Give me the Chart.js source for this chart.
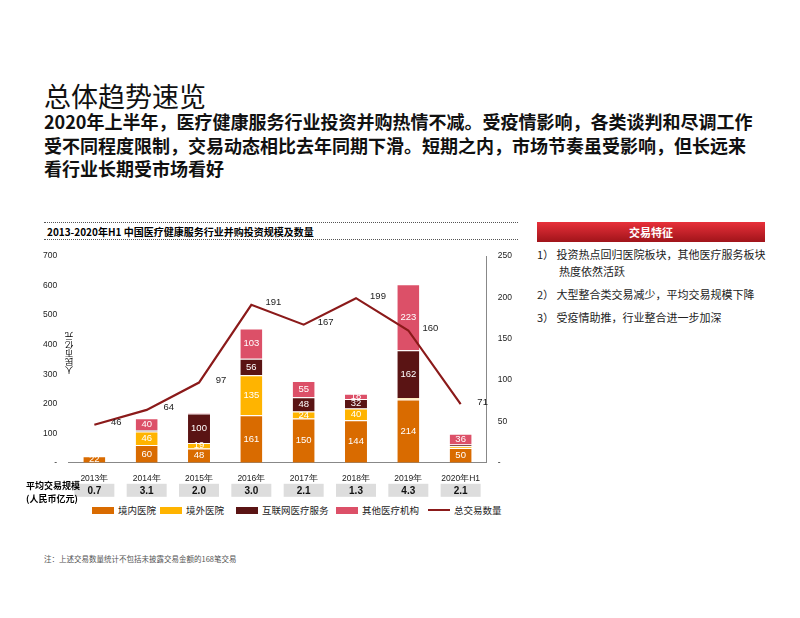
<!DOCTYPE html>
<html><head><meta charset="utf-8">
<script src="https://cdn.jsdelivr.net/npm/chart.js@4/dist/chart.umd.min.js"></script>
<style>
body{margin:0;width:800px;height:618px;background:#fff;font-family:"Noto Sans CJK SC",sans-serif;position:relative;overflow:hidden}
.abs{position:absolute}
h1{position:absolute;left:44px;top:76px;margin:0;font-size:27px;font-weight:400;color:#111}
.sub{left:44px;top:110px;width:760px;font-size:18px;font-weight:700;line-height:23.5px;color:#111;white-space:nowrap}
.ct{left:44px;top:222px;width:474px;height:18px;border-top:1px dotted #555;border-bottom:1px dotted #555;font-size:10px;font-weight:700;line-height:18px;padding-left:3px;box-sizing:border-box}
.hd{left:537px;top:222px;width:228px;height:20px;background:linear-gradient(#e8303a,#a0141a);color:#fff;font-size:11px;font-weight:700;text-align:center;line-height:20px}
.items{left:537px;top:246px;width:234px;font-size:11px;color:#222;line-height:17px}
.items div{margin-bottom:6px;padding-left:22px;text-indent:-22px}
.leg{top:503px;font-size:9.5px;color:#222;display:flex;align-items:center}
.sw{display:inline-block;width:22px;height:7px;margin-right:4px}
</style></head><body>
<h1>总体趋势速览</h1>
<div class="abs sub">2020年上半年，医疗健康服务行业投资并购热情不减。受疫情影响，各类谈判和尽调工作<br>受不同程度限制，交易动态相比去年同期下滑。短期之内，市场节奏虽受影响，但长远来<br>看行业长期受市场看好</div>
<div class="abs ct">2013-2020年H1 中国医疗健康服务行业并购投资规模及数量</div>
<div class="abs hd">交易特征</div>
<div class="abs items"><div>1）&nbsp;投资热点回归医院板块，其他医疗服务板块热度依然活跃</div><div>2）&nbsp;大型整合类交易减少，平均交易规模下降</div><div>3）&nbsp;受疫情助推，行业整合进一步加深</div></div>
<div class="abs" style="left:40px;top:245px;width:475px;height:256px"><canvas id="c"></canvas></div>
<div class="abs" style="left:26px;top:479px;font-size:9px;font-weight:700;line-height:13px">平均交易规模<br>(人民币亿元)</div>
<div class="abs leg" style="left:92px"><span class="sw" style="background:#d96b00"></span>境内医院</div>
<div class="abs leg" style="left:160px"><span class="sw" style="background:#ffb400"></span>境外医院</div>
<div class="abs leg" style="left:236px"><span class="sw" style="background:#5a1414"></span>互联网医疗服务</div>
<div class="abs leg" style="left:336px"><span class="sw" style="background:#dc5068"></span>其他医疗机构</div>
<div class="abs leg" style="left:428px"><span class="sw" style="background:#8b1a1a;height:2px"></span>总交易数量</div>
<div class="abs" style="left:44px;top:553px;font-size:7.5px;color:#555">注：上述交易数量统计不包括未披露交易金额的168笔交易</div>
<script>
const categories=["2013年","2014年","2015年","2016年","2017年","2018年","2019年","2020年H1"];
const domestic=[22,60,48,161,150,144,214,50];
const overseas=[0,46,19,135,24,40,5,6];
const internet=[0,5,100,56,48,32,162,6];
const other=[0,40,3,103,55,18,223,36];
const dealCount=[46,64,97,191,167,199,160,71];
const avgSize=["0.7","3.1","2.0","3.0","2.1","1.3","4.3","2.1"];
const showMin=12;
const seg=(label,data,color)=>({type:'bar',label,data,backgroundColor:color,yAxisID:'y',stack:'s',barPercentage:0.42,categoryPercentage:1,order:2,borderColor:'#fff',borderWidth:{top:1}});
const labelsPlugin={id:'lbl',afterDatasetsDraw(ch){const c=ch.ctx;c.save();c.font='9.5px "Liberation Sans",sans-serif';c.textAlign='center';c.textBaseline='middle';
ch.data.datasets.forEach((ds,i)=>{const m=ch.getDatasetMeta(i);m.data.forEach((el,j)=>{const v=ds.data[j];
if(ds.type==='bar'){if(v>=showMin){c.fillStyle='#fff';c.fillText(v,el.x,(el.y+el.base)/2);}}
else{c.fillStyle='#222';c.fillText(v,el.x+22,el.y-2);}});});
const x=ch.scales.x;c.font='bold 10px "Liberation Sans",sans-serif';
avgSize.forEach((a,j)=>{const px=x.getPixelForValue(j);c.fillStyle='#ddd';c.fillRect(px-20,ch.chartArea.bottom+21,40,13);c.fillStyle='#111';c.fillText(a,px,ch.chartArea.bottom+28);});
c.restore();}};
new Chart(document.getElementById('c'),{data:{labels:categories,datasets:[
seg('境内医院',domestic,'#d96b00'),seg('境外医院',overseas,'#ffb400'),seg('互联网医疗服务',internet,'#5a1414'),seg('其他医疗机构',other,'#dc5068'),
{type:'line',label:'总交易数量',data:dealCount,yAxisID:'y1',borderColor:'#8b1a1a',borderWidth:2.2,pointRadius:0,tension:0,order:1}]},
options:{responsive:true,maintainAspectRatio:false,animation:false,layout:{padding:{bottom:14,left:0,right:0,top:11}},
plugins:{legend:{display:false},tooltip:{enabled:false}},
scales:{x:{stacked:true,grid:{display:false,drawTicks:true},border:{color:'#888'},ticks:{font:{size:8.5,family:'"Liberation Sans"'},color:'#222'}},
y:{stacked:true,min:0,max:700,ticks:{stepSize:100,font:{size:8.5,family:'"Liberation Sans"'},color:'#222',callback:v=>v===0?'-':v},grid:{display:false},border:{display:false}},
y1:{position:'right',min:0,max:250,ticks:{stepSize:50,font:{size:8.5,family:'"Liberation Sans"'},color:'#222',callback:v=>v===0?'-':v},grid:{display:false,drawTicks:true},border:{color:'#888'}}}},
plugins:[labelsPlugin]});
</script>
<div class="abs" style="left:63px;top:332px;font-size:8.5px;writing-mode:vertical-rl;transform:rotate(180deg)">人民币亿元</div>
</body></html>
